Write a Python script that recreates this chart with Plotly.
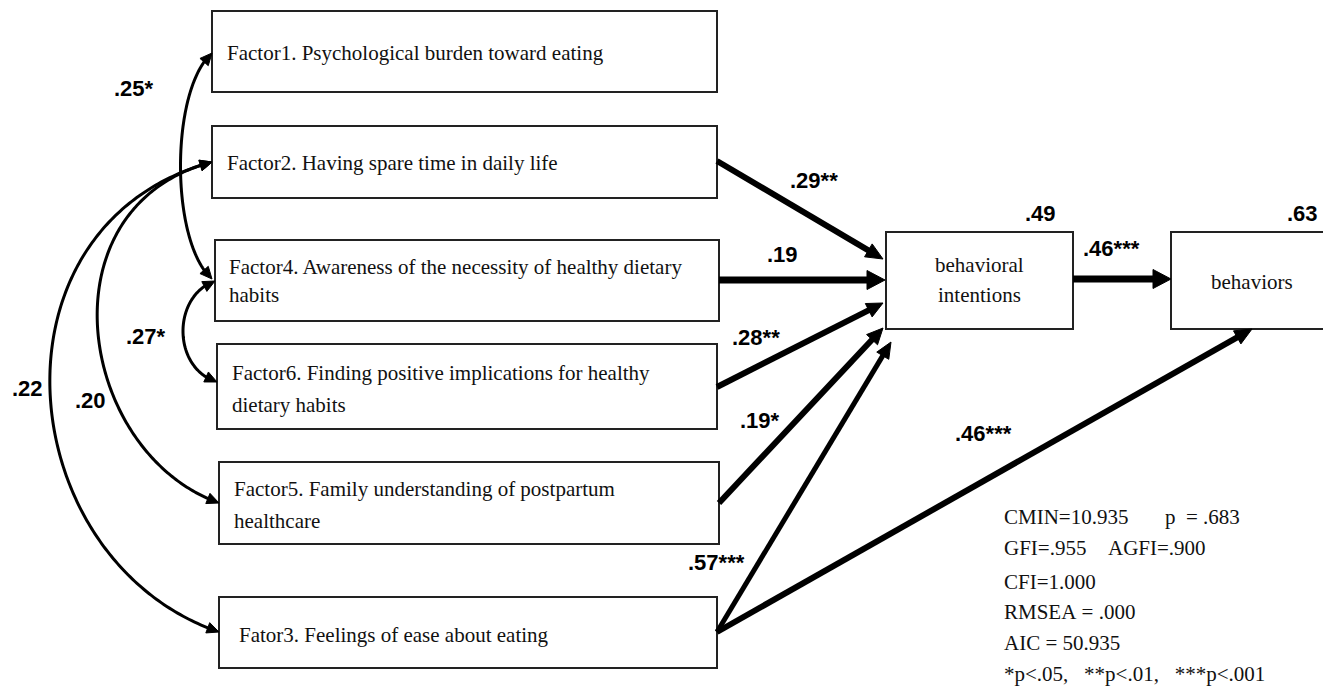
import numpy as np
import plotly.graph_objects as go

# ---------------- data ----------------
node_ids = ["F1", "F2", "F4", "F6", "F5", "F3", "BI", "BEH"]
node_text = [
    ["Factor1. Psychological burden toward eating"],
    ["Factor2. Having spare time in daily life"],
    ["Factor4. Awareness of the necessity of healthy dietary", "habits"],
    ["Factor6. Finding positive implications for healthy", "dietary habits"],
    ["Factor5. Family understanding of postpartum", "healthcare"],
    ["Fator3. Feelings of ease about eating"],
    ["behavioral", "intentions"],
    ["behaviors"],
]

path_from = ["F2", "F4", "F6", "F5", "F3", "F3", "BI"]
path_to = ["BI", "BI", "BI", "BI", "BI", "BEH", "BEH"]
path_coef = [".29**", ".19", ".28**", ".19*", ".57***", ".46***", ".46***"]

cov_a = ["F1", "F4", "F2", "F2"]
cov_b = ["F4", "F6", "F5", "F3"]
cov_value = [".25*", ".27*", ".20", ".22"]

r2_nodes = ["BI", "BEH"]
r2_values = [".49", ".63"]

fit_lines = [
    ["CMIN=10.935", "p  = .683"],
    ["GFI=.955", "AGFI=.900"],
    ["CFI=1.000"],
    ["RMSEA = .000"],
    ["AIC = 50.935"],
    ["*p<.05,   **p<.01,   ***p<.001"],
]

# ---------------- layout (pixel positions) ----------------
W, H = 1323, 686
boxes = {
    "F1": (212, 11, 717, 92),
    "F2": (212, 126, 717, 198),
    "F4": (215, 240, 719, 321),
    "F6": (217, 344, 717, 429),
    "F5": (219, 462, 719, 544),
    "F3": (219, 597, 717, 668),
    "BI": (886, 232, 1073, 329),
    "BEH": (1171, 232, 1345, 329),
}
text_anchor = {  # x, line y's, xanchor
    "F1": (225, [53], "left"),
    "F2": (225, [163], "left"),
    "F4": (227, [267, 295], "left"),
    "F6": (230, [373, 405], "left"),
    "F5": (232, [489, 521], "left"),
    "F3": (237, [635], "left"),
    "BI": (979, [265, 295], "center"),
    "BEH": (1252, [282], "center"),
}
path_start = [(717, 161), (719, 280), (717, 387), (719, 503), (717, 632), (717, 632), (1073, 279)]
path_tip = [(883, 259), (885, 280), (883, 303), (883, 328), (891, 342), (1252, 329), (1171, 279)]
path_lw = [6, 7, 6, 6, 5, 6, 7]
head_len = [17, 18, 16, 16, 16, 17, 18]
head_w = [15, 19, 15, 15, 14, 15, 19]
path_label_pos = [(814, 180), (782, 254), (756, 337), (760, 420), (716, 562), (983, 433), (1111, 248)]

cov_ctrl = [
    [(212, 53), (170, 90), (170, 242), (212, 279)],
    [(215, 281), (172, 296), (172, 368), (217, 382)],
    [(212, 162), (40, 207), (77, 452), (219, 503)],
    [(212, 162), (-20, 225), (10, 560), (219, 632)],
]
cov_label_pos = [(134, 88), (146, 336), (90, 400), (27, 388)]
r2_pos = [(1040, 213), (1302, 213)]
fit_x = [[1002, 1163], [1002, 1106], [1002], [1002], [1002], [1002]]
fit_y = [517, 548, 582, 612, 643, 674]

SERIF = "Liberation Serif"
SANS = "Liberation Sans"

fig = go.Figure()
shapes = []
annotations = []


def tri_path(tip, d, L, Wd):
    tip = np.asarray(tip, float)
    d = np.asarray(d, float)
    d = d / np.linalg.norm(d)
    n = np.array([-d[1], d[0]])
    base = tip - d * L
    p1 = base + n * Wd / 2
    p2 = base - n * Wd / 2
    return f"M {tip[0]:.2f},{tip[1]:.2f} L {p1[0]:.2f},{p1[1]:.2f} L {p2[0]:.2f},{p2[1]:.2f} Z"


# boxes
for nid in node_ids:
    x0, y0, x1, y1 = boxes[nid]
    shapes.append(dict(type="rect", xref="x", yref="y", x0=x0, y0=y0, x1=x1, y1=y1,
                       line=dict(color="#222222", width=2), fillcolor="rgba(0,0,0,0)"))

# node texts
for nid, lines in zip(node_ids, node_text):
    x, ys, xa = text_anchor[nid]
    for ln, y in zip(lines, ys):
        annotations.append(dict(x=x, y=y, xref="x", yref="y", text=ln, showarrow=False,
                                xanchor=xa, yanchor="middle",
                                font=dict(family=SERIF, size=21, color="#111111")))

# straight path arrows
for i in range(len(path_from)):
    s = np.array(path_start[i], float)
    t = np.array(path_tip[i], float)
    d = t - s
    u = d / np.linalg.norm(d)
    e = t - u * (head_len[i] - 3)
    shapes.append(dict(type="line", xref="x", yref="y", x0=s[0], y0=s[1], x1=e[0], y1=e[1],
                       line=dict(color="black", width=path_lw[i])))
    shapes.append(dict(type="path", xref="x", yref="y", path=tri_path(t, d, head_len[i], head_w[i]),
                       fillcolor="black", line=dict(color="black", width=1)))
    lx, ly = path_label_pos[i]
    annotations.append(dict(x=lx, y=ly, xref="x", yref="y", text=path_coef[i], showarrow=False,
                            xanchor="center", yanchor="middle",
                            font=dict(family=SANS, size=22, color="black", weight="bold")))

# covariance curves
CL, CW = 12, 11
for k in range(len(cov_a)):
    P = np.array(cov_ctrl[k], float)
    t = np.linspace(0, 1, 200)[:, None]
    pts = ((1 - t) ** 3) * P[0] + 3 * ((1 - t) ** 2) * t * P[1] + 3 * (1 - t) * t ** 2 * P[2] + t ** 3 * P[3]
    d0 = np.linalg.norm(pts - P[0], axis=1)
    d3 = np.linalg.norm(pts - P[3], axis=1)
    keep = (d0 >= CL - 3) & (d3 >= CL - 3)
    idx = np.where(keep)[0]
    seg = pts[idx[0]:idx[-1] + 1]
    path = "M " + " L ".join(f"{p[0]:.2f},{p[1]:.2f}" for p in seg)
    shapes.append(dict(type="path", xref="x", yref="y", path=path,
                       line=dict(color="black", width=3)))
    j0 = np.argmax(d0 >= CL)
    j3 = len(d3) - 1 - np.argmax(d3[::-1] >= CL)
    shapes.append(dict(type="path", xref="x", yref="y", path=tri_path(P[0], P[0] - pts[j0], CL, CW),
                       fillcolor="black", line=dict(color="black", width=1)))
    shapes.append(dict(type="path", xref="x", yref="y", path=tri_path(P[3], P[3] - pts[j3], CL, CW),
                       fillcolor="black", line=dict(color="black", width=1)))
    lx, ly = cov_label_pos[k]
    annotations.append(dict(x=lx, y=ly, xref="x", yref="y", text=cov_value[k], showarrow=False,
                            xanchor="center", yanchor="middle",
                            font=dict(family=SANS, size=22, color="black", weight="bold")))

# R^2
for (x, y), v in zip(r2_pos, r2_values):
    annotations.append(dict(x=x, y=y, xref="x", yref="y", text=v, showarrow=False,
                            xanchor="center", yanchor="middle",
                            font=dict(family=SANS, size=22, color="black", weight="bold")))

# fit statistics
for segs, xs, y in zip(fit_lines, fit_x, fit_y):
    for sgm, x in zip(segs, xs):
        annotations.append(dict(x=x, y=y, xref="x", yref="y", text=sgm.replace(" ", "\u00a0"),
                                showarrow=False, xanchor="left", yanchor="middle",
                                font=dict(family=SERIF, size=21, color="#111111")))

fig.update_layout(
    width=W, height=H, margin=dict(l=0, r=0, t=0, b=0),
    paper_bgcolor="white", plot_bgcolor="white",
    xaxis=dict(range=[0, W], visible=False, fixedrange=True),
    yaxis=dict(range=[H, 0], visible=False, fixedrange=True),
    shapes=shapes, annotations=annotations, showlegend=False,
)

fig.write_html("out.html", config={"displayModeBar": False},
               post_script="document.body.style.margin='0';document.body.style.overflow='hidden';")
